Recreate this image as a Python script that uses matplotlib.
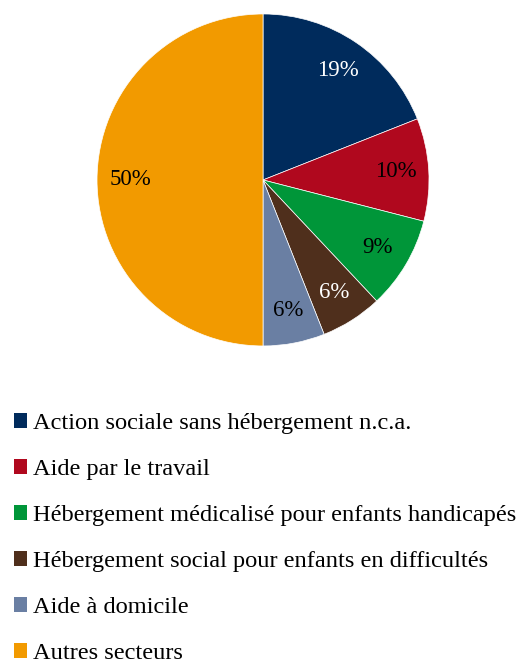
import matplotlib
matplotlib.use("Agg")
import matplotlib.pyplot as plt
from matplotlib.patches import Patch

labels = ["Action sociale sans hébergement n.c.a.",
          "Aide par le travail",
          "Hébergement médicalisé pour enfants handicapés",
          "Hébergement social pour enfants en difficultés",
          "Aide à domicile",
          "Autres secteurs"]
values = [19, 10, 9, 6, 6, 50]
colors = ["#002B5C", "#B0081E", "#009639", "#4F2F1C", "#6A7FA3", "#F29A00"]
pct_colors = ["white", "black", "black", "white", "black", "black"]

plt.rcParams["font.family"] = "serif"
plt.rcParams["font.serif"] = ["Liberation Serif", "DejaVu Serif"]

fig = plt.figure(figsize=(5.29, 6.59), dpi=100)
ax = fig.add_axes([0.1834, 0.475, 0.6276, 0.5038])

wedges, texts, autotexts = ax.pie(values, colors=colors, startangle=90, counterclock=False,
                                  autopct="%d%%", pctdistance=0.8,
                                  wedgeprops=dict(linewidth=0.5, edgecolor="white"),
                                  textprops=dict(fontsize=16.5))
for t, c in zip(autotexts, pct_colors):
    t.set_color(c)
ax.set_aspect("equal")
ax.set_xlim(-1, 1)
ax.set_ylim(-1, 1)

handles = [Patch(facecolor=c, edgecolor="none") for c in colors]
fig.legend(handles, labels, loc="upper left", bbox_to_anchor=(0.026, 0.373),
           frameon=False, fontsize=17.6, handlelength=0.55, handleheight=0.55,
           handletextpad=0.25, labelspacing=1.02, borderpad=0, borderaxespad=0)

fig.savefig("out.png", dpi=100)
